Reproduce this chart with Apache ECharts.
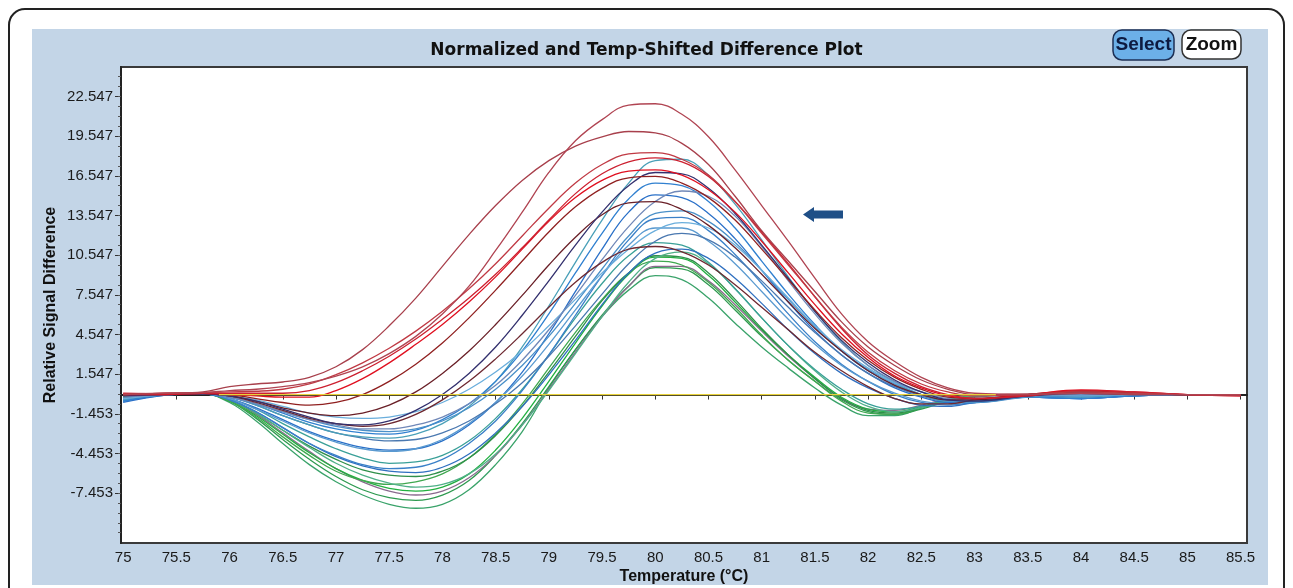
<!DOCTYPE html>
<html>
<head>
<meta charset="utf-8">
<title>Normalized and Temp-Shifted Difference Plot</title>
<script src="https://cdn.jsdelivr.net/npm/echarts@6.0.0/dist/echarts.min.js"></script>
<style>
  html, body { margin: 0; padding: 0; background: #fff; }
  #chart { width: 1293px; height: 588px; }
</style>
</head>
<body>
<div id="chart"></div>
<script>
// temperatures (°C) shared by every melt curve
var temps = [75, 75.4, 75.75, 76, 76.25, 76.5, 76.75, 77, 77.25, 77.5, 77.75, 78, 78.25, 78.5, 78.75,
  79, 79.25, 79.5, 79.75, 80, 80.25, 80.5, 80.75, 81, 81.25, 81.5, 81.75, 82, 82.25, 82.5, 82.75,
  83, 83.5, 84, 84.5, 85, 85.5];

// red / maroon group
var r1 = [0, 0.1, 0.15, 0.3, 0.4, 0.6, 0.9, 1.4, 2.1, 3.1, 4.4, 6.1, 8.2, 10.9, 13.8, 16.8, 19.2, 20.8, 21.9, 22.0, 21.2, 19.5, 17.0, 14.3, 11.6, 8.8, 6.1, 4.0, 2.5, 1.3, 0.5, 0.1, 0, 0.1, 0.05, 0, 0];
var r2 = [0, 0.1, 0.2, 0.6, 0.8, 0.95, 1.3, 2.1, 3.4, 5.2, 7.3, 9.7, 12.1, 14.3, 16.2, 17.7, 18.8, 19.5, 19.9, 19.8, 19.0, 17.4, 15.0, 12.4, 10.1, 7.8, 5.5, 3.6, 2.2, 1.1, 0.4, 0, 0.05, 0.1, 0, 0, -0.05];
var r3 = [0.05, 0.1, 0.15, 0.2, 0.25, 0.4, 0.8, 1.5, 2.4, 3.5, 4.8, 6.3, 8.0, 9.9, 12.0, 14.1, 16.0, 17.4, 18.2, 18.3, 17.8, 16.6, 14.6, 12.2, 9.8, 7.4, 5.1, 3.2, 1.8, 0.8, 0.2, -0.1, 0, 0.2, 0.1, 0, 0];
var r4 = [0.1, 0.05, 0.1, 0.1, 0.1, 0.1, 0.3, 0.9, 1.8, 2.9, 4.2, 5.7, 7.3, 9.1, 11.1, 13.2, 15.2, 16.7, 17.6, 17.9, 17.6, 16.5, 14.6, 12.3, 9.9, 7.4, 5.0, 3.0, 1.6, 0.6, 0, -0.3, -0.1, 0.3, 0.2, 0, -0.1];
var r5 = [0, 0, 0.1, 0, -0.1, -0.2, -0.2, 0.3, 1.2, 2.4, 3.8, 5.3, 7.0, 8.9, 11.0, 13.1, 14.9, 16.2, 16.9, 17.0, 16.6, 15.5, 13.8, 11.6, 9.2, 6.8, 4.6, 2.8, 1.4, 0.5, -0.1, -0.3, 0, 0.35, 0.2, 0, -0.1];
var r6 = [0, 0.05, 0.1, 0, -0.3, -0.6, -0.8, -0.6, 0, 1.0, 2.3, 3.9, 5.8, 7.9, 10.1, 12.3, 14.2, 15.6, 16.4, 16.5, 16.0, 14.9, 13.2, 11.0, 8.7, 6.4, 4.3, 2.6, 1.3, 0.4, -0.2, -0.3, 0, 0.3, 0.1, 0, 0];
var r7 = [0, 0, 0.1, -0.1, -0.5, -1.0, -1.4, -1.6, -1.4, -0.8, 0.2, 1.6, 3.3, 5.3, 7.5, 9.8, 11.9, 13.6, 14.5, 14.6, 14.0, 12.8, 11.1, 9.1, 7.0, 5.0, 3.3, 1.8, 0.7, 0, -0.4, -0.4, -0.1, 0.2, 0.1, 0, 0];
var r8 = [0, 0, 0.05, -0.1, -0.6, -1.2, -1.8, -2.2, -2.4, -2.2, -1.5, -0.4, 1.0, 2.7, 4.6, 6.6, 8.5, 10.0, 11.0, 11.2, 10.8, 9.8, 8.3, 6.6, 4.9, 3.2, 1.8, 0.6, -0.3, -0.7, -0.7, -0.4, 0, 0.2, 0.1, 0, 0];
var n1 = [-0.1, 0, 0.05, -0.1, -0.5, -1.1, -1.7, -2.2, -2.3, -2.0, -1.2, 0, 1.6, 3.6, 6.0, 8.6, 11.3, 13.8, 15.8, 16.8, 16.7, 15.6, 13.7, 11.3, 8.8, 6.3, 4.1, 2.4, 1.1, 0.2, -0.4, -0.5, -0.1, 0.1, 0, 0, 0];

// blue group
var b1 = [-0.4, 0, 0.1, -0.2, -0.8, -1.6, -2.3, -2.9, -3.2, -3.3, -3.0, -2.2, -0.9, 1.0, 3.6, 6.7, 10.0, 13.2, 16.0, 17.7, 17.8, 16.6, 14.4, 11.7, 8.9, 6.3, 4.0, 2.2, 0.9, 0, -0.5, -0.5, -0.1, -0.2, 0, 0, 0];
var b2 = [-0.5, 0, 0.1, -0.2, -0.7, -1.4, -2.1, -2.6, -2.9, -3.0, -2.7, -1.9, -0.7, 1.0, 3.3, 6.1, 9.2, 12.2, 14.8, 16.0, 15.8, 14.6, 12.6, 10.1, 7.6, 5.3, 3.3, 1.8, 0.7, 0, -0.4, -0.5, -0.2, -0.3, -0.1, 0, 0];
var b3 = [-0.6, -0.05, 0.1, -0.3, -1.0, -1.9, -2.8, -3.5, -4.0, -4.2, -4.1, -3.5, -2.3, -0.6, 1.7, 4.6, 7.8, 11.0, 13.8, 15.1, 14.9, 13.7, 11.8, 9.4, 7.0, 4.8, 3.0, 1.6, 0.5, -0.2, -0.6, -0.6, -0.2, -0.3, -0.1, 0, 0];
var b4 = [-0.3, 0, 0.1, -0.2, -0.7, -1.3, -1.9, -2.4, -2.7, -2.8, -2.6, -2.0, -1.0, 0.4, 2.2, 4.4, 6.9, 9.5, 12.0, 13.7, 13.9, 13.1, 11.5, 9.4, 7.2, 5.1, 3.3, 1.9, 0.8, 0, -0.5, -0.6, -0.2, -0.1, 0, 0, 0];
var b5 = [-0.5, 0, 0.05, -0.4, -1.3, -2.5, -3.7, -4.6, -5.3, -5.6, -5.5, -4.9, -3.7, -2.0, 0.3, 3.0, 6.0, 9.0, 11.7, 13.3, 13.4, 12.4, 10.6, 8.4, 6.1, 4.0, 2.3, 1.0, 0, -0.6, -0.8, -0.6, -0.2, -0.3, -0.1, 0, 0];
var b6 = [-0.4, 0, 0.1, -0.3, -1.1, -2.0, -2.9, -3.6, -4.1, -4.3, -4.1, -3.4, -2.2, -0.6, 1.4, 3.8, 6.4, 9.0, 11.3, 12.6, 12.6, 11.6, 9.9, 7.8, 5.7, 3.8, 2.2, 1.0, 0.1, -0.5, -0.7, -0.5, -0.1, -0.2, 0, 0, 0];
var b7 = [-0.3, 0, 0.1, -0.2, -0.8, -1.6, -2.3, -2.9, -3.3, -3.5, -3.4, -2.9, -2.0, -0.7, 0.9, 2.9, 5.2, 7.6, 9.9, 11.6, 12.2, 11.7, 10.4, 8.6, 6.6, 4.7, 3.0, 1.6, 0.6, -0.1, -0.5, -0.5, -0.1, -0.1, 0, 0, 0];
var b8 = [-0.2, 0, 0.1, -0.2, -0.7, -1.3, -1.9, -2.3, -2.6, -2.6, -2.3, -1.7, -0.7, 0.7, 2.6, 4.9, 7.5, 10.2, 12.7, 14.6, 15.4, 15.0, 13.5, 11.2, 8.6, 6.1, 3.9, 2.2, 1.0, 0.2, -0.3, -0.4, -0.1, 0, 0, 0, 0];
var b9 = [-0.5, -0.05, 0.05, -0.4, -1.3, -2.5, -3.7, -4.7, -5.4, -5.8, -5.9, -5.5, -4.5, -2.9, -0.9, 1.5, 4.1, 6.8, 9.2, 10.7, 11.0, 10.3, 8.8, 6.9, 4.9, 3.1, 1.6, 0.5, -0.3, -0.8, -0.9, -0.6, -0.2, -0.3, -0.1, 0, 0];
var b10 = [-0.3, 0, 0.1, -0.1, -0.4, -0.9, -1.4, -1.7, -1.8, -1.7, -1.3, -0.6, 0.4, 1.7, 3.3, 5.2, 7.2, 9.2, 11.0, 12.4, 13.0, 12.6, 11.3, 9.4, 7.3, 5.2, 3.4, 2.0, 0.9, 0.2, -0.2, -0.3, 0, -0.1, 0, 0, 0];

// green group
var g1 = [-0.2, 0, 0.05, -0.6, -2.0, -3.7, -5.3, -6.6, -7.6, -8.3, -8.6, -8.3, -7.2, -5.3, -2.8, 0.5, 3.4, 5.9, 7.9, 9.0, 8.7, 7.3, 5.4, 3.6, 2.0, 0.5, -0.8, -1.6, -1.6, -1.0, -0.4, -0.1, 0, -0.1, 0, 0, 0];
var g2 = [-0.2, 0, 0.05, -0.5, -1.8, -3.4, -4.9, -6.2, -7.2, -7.8, -8.0, -7.6, -6.5, -4.6, -2.2, 0.6, 3.4, 6.0, 8.2, 9.6, 9.5, 8.3, 6.4, 4.4, 2.6, 1.0, -0.4, -1.3, -1.5, -1.1, -0.5, -0.1, 0, 0, 0, 0, 0];
var g3 = [-0.1, 0, 0.05, -0.5, -1.6, -3.0, -4.4, -5.6, -6.5, -7.1, -7.3, -7.0, -6.0, -4.2, -1.8, 1.0, 3.9, 6.7, 9.1, 10.4, 10.3, 9.0, 7.0, 4.9, 3.0, 1.3, -0.2, -1.1, -1.3, -0.9, -0.4, -0.1, 0, 0, 0, 0, 0];
var g4 = [-0.2, 0, 0.05, -0.4, -1.4, -2.7, -4.0, -5.2, -6.1, -6.7, -7.0, -6.8, -6.0, -4.5, -2.3, 0.3, 3.1, 5.9, 8.5, 10.3, 10.8, 9.9, 8.0, 5.8, 3.7, 1.8, 0.2, -0.9, -1.3, -1.0, -0.5, -0.1, 0, 0, 0, 0, 0];
var g5 = [-0.1, 0, 0.05, -0.4, -1.4, -2.7, -3.9, -4.9, -5.7, -6.1, -6.2, -5.8, -4.8, -3.1, -0.9, 1.7, 4.4, 7.1, 9.2, 10.5, 10.4, 9.2, 7.2, 5.0, 3.0, 1.2, -0.3, -1.2, -1.4, -1.0, -0.5, -0.1, 0, 0, 0, 0, 0];
var g6 = [-0.1, 0, 0.05, -0.4, -1.5, -2.9, -4.3, -5.6, -6.6, -7.3, -7.6, -7.3, -6.3, -4.6, -2.3, 0.4, 3.2, 5.9, 8.2, 9.7, 9.7, 8.6, 6.8, 4.8, 2.9, 1.2, -0.3, -1.1, -1.2, -0.8, -0.3, 0, 0, 0, 0, 0, 0];
var g7 = [-0.3, 0, 0.05, -0.3, -1.1, -2.2, -3.2, -4.1, -4.8, -5.2, -5.1, -4.6, -3.5, -1.8, 0.4, 3.0, 5.8, 8.4, 10.5, 11.5, 11.3, 10.0, 8.0, 5.8, 3.7, 1.9, 0.4, -0.7, -1.1, -0.9, -0.5, -0.2, 0, -0.1, 0, 0, 0];
var g8 = [-0.1, 0, 0.05, -0.5, -1.7, -3.2, -4.6, -5.8, -6.5, -6.8, -6.6, -6.0, -4.8, -3.0, -0.7, 2.0, 4.7, 7.2, 9.2, 10.1, 9.8, 8.5, 6.6, 4.5, 2.6, 1.0, -0.5, -1.4, -1.5, -1.0, -0.4, -0.1, 0, 0, 0, 0, 0];

// flat reference trace
var refTemps = [75.9, 83.2];
var refValues = [0, 0];

// axis tick labels
var xTicks = [75, 75.5, 76, 76.5, 77, 77.5, 78, 78.5, 79, 79.5, 80, 80.5, 81, 81.5, 82, 82.5, 83, 83.5, 84, 84.5, 85, 85.5];
var yTicks = [-7.453, -4.453, -1.453, 1.547, 4.547, 7.547, 10.547, 13.547, 16.547, 19.547, 22.547];

var traces = [
  { v: g1, c: '#3aa36a' }, { v: g2, c: '#2e9a50' }, { v: g6, c: '#8a6a8e' }, { v: g3, c: '#22b040' },
  { v: g8, c: '#40a850' }, { v: g5, c: '#2f8f4a' }, { v: g4, c: '#50b088' }, { v: g7, c: '#3aa098' },
  { v: b9, c: '#3070c0' }, { v: b5, c: '#3a80c8' }, { v: b3, c: '#2a70c8' }, { v: b6, c: '#5a9ad0' },
  { v: b7, c: '#4a78b0' }, { v: b1, c: '#4aa0b8' }, { v: b2, c: '#3080d0' }, { v: b4, c: '#4a90c8' },
  { v: b10, c: '#6aaedc' }, { v: b8, c: '#7088b8' },
  { v: r8, c: '#6e2830' }, { v: r7, c: '#6a2028' }, { v: n1, c: '#33306e' }, { v: r6, c: '#902020' },
  { v: r5, c: '#e01020' }, { v: r4, c: '#cc2030' }, { v: r3, c: '#c03a44' }, { v: r2, c: '#a8404c' },
  { v: r1, c: '#b04452' }
];

var series = traces.map(function(t, i) {
  return {
    type: 'line',
    name: 'trace' + (i + 1),
    data: temps.map(function(x, k) { return [x, t.v[k]]; }),
    smooth: 0.4,
    showSymbol: false,
    symbol: 'none',
    lineStyle: { color: t.c, width: 1.3 },
    z: 2
  };
});
series.push({
  type: 'line',
  name: 'reference',
  data: refTemps.map(function(x, k) { return [x, refValues[k]]; }),
  showSymbol: false,
  symbol: 'none',
  lineStyle: { color: '#e8d23c', width: 1.3 },
  z: 3
});

var yMinor = [];
for (var m = -10.453; m < 25; m += 0.75) yMinor.push(+m.toFixed(3));

var labelFont = '"Liberation Sans", Arial, sans-serif';

var chart = echarts.init(document.getElementById('chart'));
chart.setOption({
  animation: false,
  backgroundColor: 'transparent',
  title: {
    text: 'Normalized and Temp-Shifted Difference Plot',
    left: 'center',
    top: 37,
    textStyle: { fontFamily: 'DejaVu Sans', fontWeight: 'bold', fontSize: 17, color: '#111' }
  },
  graphic: [
    { type: 'rect', z: -10, shape: { x: 9, y: 9, width: 1275, height: 610, r: 16 },
      style: { fill: '#fff', stroke: '#222', lineWidth: 2 } },
    { type: 'rect', z: -9, shape: { x: 32, y: 29, width: 1236, height: 556 },
      style: { fill: '#c3d5e7' } },
    { type: 'rect', z: 5, shape: { x: 1113, y: 30, width: 61, height: 30, r: 9 },
      style: { fill: '#6cb0e8', stroke: '#1c2f55', lineWidth: 1.5 } },
    { type: 'text', z: 6, x: 1143.5, y: 45,
      style: { text: 'Select', fill: '#0d1a40', font: 'bold 19px "Liberation Sans"', align: 'center', verticalAlign: 'middle' } },
    { type: 'rect', z: 5, shape: { x: 1182, y: 30, width: 59, height: 29, r: 9 },
      style: { fill: '#fff', stroke: '#333', lineWidth: 1.5 } },
    { type: 'text', z: 6, x: 1211.5, y: 45,
      style: { text: 'Zoom', fill: '#111', font: 'bold 19px "Liberation Sans"', align: 'center', verticalAlign: 'middle' } },
    { type: 'polygon', z: 5,
      shape: { points: [[803, 214.5], [814, 207], [814, 210.5], [843, 210.5], [843, 218.5], [814, 218.5], [814, 222]] },
      style: { fill: '#1f4f87' } }
  ],
  grid: {
    left: 121, top: 67, right: 46, bottom: 45,
    outerBoundsMode: 'none',
    containLabel: false,
    show: true, backgroundColor: '#fff', borderColor: '#3a3a3a', borderWidth: 2
  },
  xAxis: {
    type: 'value',
    min: 74.98, max: 85.56,
    axisLine: { show: true, lineStyle: { color: '#222', width: 2 } },
    axisTick: { show: true, customValues: xTicks, length: 5, lineStyle: { color: '#333' } },
    axisLabel: {
      customValues: xTicks, margin: 7,
      formatter: function(v) { return String(v); },
      color: '#1a1a1a', fontFamily: labelFont, fontSize: 15
    },
    splitLine: { show: false },
    name: 'Temperature (°C)',
    nameLocation: 'middle',
    nameGap: 26,
    nameMoveOverlap: false,
    nameTextStyle: { color: '#111', fontFamily: labelFont, fontWeight: 'bold', fontSize: 16 }
  },
  yAxis: [{
    type: 'value',
    min: -11.23, max: 24.78,
    axisLine: { show: true, lineStyle: { color: '#222', width: 2 } },
    axisTick: { show: true, customValues: yTicks, length: 6, lineStyle: { color: '#333' } },
    axisLabel: {
      customValues: yTicks, margin: 8,
      formatter: function(v) { return v.toFixed(3); },
      color: '#1a1a1a', fontFamily: labelFont, fontSize: 15
    },
    splitLine: { show: false },
    name: 'Relative Signal Difference',
    nameLocation: 'middle',
    nameGap: 62,
    nameMoveOverlap: false,
    nameTextStyle: { color: '#111', fontFamily: labelFont, fontWeight: 'bold', fontSize: 16 }
  }, {
    type: 'value',
    position: 'left',
    min: -11.23, max: 24.78,
    axisLine: { show: false },
    axisTick: { show: true, customValues: yMinor, length: 3, lineStyle: { color: '#555' } },
    axisLabel: { show: false },
    splitLine: { show: false }
  }],
  series: series
});
window.addEventListener('resize', function() { chart.resize(); });
</script>
</body>
</html>
